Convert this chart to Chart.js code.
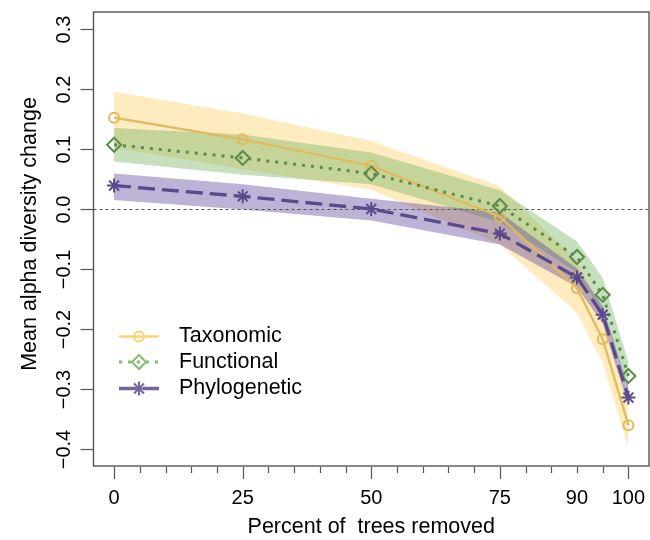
<!DOCTYPE html>
<html><head><meta charset="utf-8">
<script src="https://cdn.jsdelivr.net/npm/chart.js@4/dist/chart.umd.min.js"></script>
<style>html,body{margin:0;padding:0;background:#fff}</style>
</head><body>
<canvas id="c" width="650" height="540"></canvas>
<script>
// ---- data ----
const xValues = [0, 25, 50, 75, 90, 95, 100];

const taxMean  = [0.152, 0.116, 0.072, -0.013, -0.132, -0.217, -0.360];
const taxUpper = [0.195, 0.159, 0.113,  0.038, -0.086, -0.173, -0.319];
const taxLower = [0.102, 0.066, 0.032, -0.059, -0.173, -0.257, -0.398];

const funMean  = [0.107, 0.085, 0.059,  0.005, -0.080, -0.143, -0.278];
const funUpper = [0.135, 0.124, 0.094,  0.031, -0.054, -0.115, -0.255];
const funLower = [0.079, 0.057, 0.041, -0.022, -0.106, -0.172, -0.301];

const phyMean  = [0.039, 0.021,  0.000, -0.041, -0.114, -0.176, -0.314];
const phyUpper = [0.059, 0.041,  0.017, -0.006, -0.099, -0.162, -0.297];
const phyLower = [0.015, -0.001, -0.019, -0.059, -0.130, -0.191, -0.328];

const seriesNames = ['Taxonomic', 'Functional', 'Phylogenetic'];

const xMinorTicks = [0,5,10,15,20,25,30,35,40,45,50,55,60,65,70,75,80,85,90,95,100];
const xMajorTicks = [0, 25, 50, 75, 100];
const xTickLabels = [0, 25, 50, 75, 90, 100];
const yTicks = [-0.4, -0.3, -0.2, -0.1, 0.0, 0.1, 0.2, 0.3];
const yTickLabels = ['\u22120.4', '\u22120.3', '\u22120.2', '\u22120.1', '0.0', '0.1', '0.2', '0.3'];

const xTitle = 'Percent of  trees removed';
const yTitle = 'Mean alpha diversity change';

// ---- styles ----
const FONT = '"Liberation Sans", Arial, Helvetica, sans-serif';
const lineColors   = ['#E2BA5C', '#5C8B4B', '#5A4A8B'];
const legendColors = ['#FBD46E', '#86BD68', '#76629F'];
const fillColors   = ['rgba(252,205,98,0.40)', 'rgba(112,177,92,0.40)', 'rgba(90,65,152,0.40)'];
const dashes = [[], [3, 6], [17, 7]];
const styles = ['circle', 'rectRot', 'star'];
const radii = [5, 7, 7];
const lineWidths = [2.3, 3, 3.3];

function pts(ys) { return xValues.map((x, i) => ({ x: x, y: ys[i] })); }

function band(upper, lower, k, order) {
  return [
    { data: pts(upper), borderWidth: 0, borderColor: 'rgba(0,0,0,0)', pointRadius: 0, fill: false, order: order, tension: 0 },
    { data: pts(lower), borderWidth: 0, borderColor: 'rgba(0,0,0,0)', pointRadius: 0, fill: '-1', backgroundColor: fillColors[k], order: order, tension: 0 }
  ];
}
function meanLine(ys, k, order) {
  return {
    label: seriesNames[k], data: pts(ys), borderColor: lineColors[k], borderWidth: lineWidths[k],
    borderDash: dashes[k], fill: false, tension: 0, order: order,
    pointStyle: styles[k], pointRadius: radii[k], pointBorderColor: lineColors[k],
    pointBackgroundColor: 'rgba(0,0,0,0)', pointBorderWidth: 2
  };
}

function drawMarker(ctx, style, x, y, r) {
  ctx.beginPath();
  if (style === 'circle') {
    ctx.arc(x, y, r, 0, Math.PI * 2);
  } else if (style === 'rectRot') {
    ctx.moveTo(x, y - r); ctx.lineTo(x + r, y); ctx.lineTo(x, y + r); ctx.lineTo(x - r, y); ctx.closePath();
  } else {
    for (let a = 0; a < 4; a++) {
      const ang = a * Math.PI / 4;
      ctx.moveTo(x - r * Math.cos(ang), y - r * Math.sin(ang));
      ctx.lineTo(x + r * Math.cos(ang), y + r * Math.sin(ang));
    }
  }
  ctx.stroke();
}

const rAxes = {
  id: 'rAxes',
  beforeDatasetDraw(chart, args) {
    if (args.index !== 6) return;
    const { ctx, chartArea: a, scales: { y } } = chart;
    const py = Math.round(y.getPixelForValue(0)) + 0.5;
    ctx.save();
    ctx.strokeStyle = '#555'; ctx.lineWidth = 1; ctx.setLineDash([3, 3]);
    ctx.beginPath(); ctx.moveTo(a.left, py); ctx.lineTo(a.right, py); ctx.stroke();
    ctx.restore();
  },
  afterDraw(chart) {
    const { ctx, chartArea: a, scales: { x, y } } = chart;
    ctx.save();
    ctx.setLineDash([]);
    // box
    ctx.strokeStyle = '#555'; ctx.lineWidth = 1.4;
    ctx.strokeRect(a.left, a.top, a.right - a.left, a.bottom - a.top);
    ctx.lineWidth = 1.2;
    ctx.fillStyle = '#000';
    ctx.font = '20px ' + FONT;
    // y ticks
    y.ticks.forEach((t, i) => {
      const py = Math.round(y.getPixelForValue(t.value)) + 0.5;
      ctx.beginPath(); ctx.moveTo(a.left - 13, py); ctx.lineTo(a.left, py); ctx.stroke();
      ctx.save();
      ctx.translate(70, py); ctx.rotate(-Math.PI / 2);
      ctx.textAlign = 'center'; ctx.textBaseline = 'alphabetic';
      ctx.fillText(yTickLabels[i], 0, 0);
      ctx.restore();
    });
    // x ticks
    x.ticks.forEach((t) => {
      const px = Math.round(x.getPixelForValue(t.value)) + 0.5;
      const len = xMajorTicks.includes(t.value) ? 12 : 6;
      ctx.beginPath(); ctx.moveTo(px, a.bottom + 1); ctx.lineTo(px, a.bottom + 1 + len); ctx.stroke();
    });
    ctx.textAlign = 'center'; ctx.textBaseline = 'alphabetic';
    xTickLabels.forEach((v) => {
      ctx.fillText(String(v), x.getPixelForValue(v), 504);
    });
    // titles
    ctx.font = '21.5px ' + FONT;
    ctx.fillText(xTitle, (a.left + a.right) / 2, 533);
    ctx.save();
    ctx.translate(36, 234); ctx.rotate(-Math.PI / 2);
    ctx.fillText(yTitle, 0, 0);
    ctx.restore();
    // legend
    const legY = [336.5, 362, 388.5];
    for (let k = 0; k < 3; k++) {
      const yc = legY[k];
      ctx.strokeStyle = legendColors[k];
      ctx.lineWidth = lineWidths[k];
      ctx.setLineDash(dashes[k]);
      ctx.beginPath(); ctx.moveTo(119, yc); ctx.lineTo(159, yc); ctx.stroke();
      ctx.setLineDash([]);
      ctx.lineWidth = 2;
      drawMarker(ctx, styles[k], 139, yc, radii[k]);
      ctx.fillStyle = '#000';
      ctx.textAlign = 'left'; ctx.textBaseline = 'middle';
      ctx.fillText(seriesNames[k], 179, yc);
    }
    ctx.restore();
  }
};

const datasets = [].concat(
  band(taxUpper, taxLower, 0, 30),
  band(funUpper, funLower, 1, 20),
  band(phyUpper, phyLower, 2, 10),
  [meanLine(taxMean, 0, 3), meanLine(funMean, 1, 2), meanLine(phyMean, 2, 1)]
);

new Chart(document.getElementById('c'), {
  type: 'line',
  data: { datasets: datasets },
  options: {
    responsive: false,
    animation: false,
    events: [],
    layout: { autoPadding: false, padding: { top: 12, right: 1, left: 0, bottom: 0 } },
    plugins: { legend: { display: false }, tooltip: { enabled: false }, filler: { propagate: false } },
    scales: {
      x: {
        type: 'linear', min: -4, max: 104,
        afterBuildTicks: (s) => { s.ticks = xMinorTicks.map(v => ({ value: v })); },
        afterFit: (s) => { s.height = 74; },
        ticks: { display: false }, grid: { display: false }, border: { display: false }
      },
      y: {
        type: 'linear', min: -0.428, max: 0.328,
        afterBuildTicks: (s) => { s.ticks = yTicks.map(v => ({ value: v })); },
        afterFit: (s) => { s.width = 93.5; },
        ticks: { display: false }, grid: { display: false }, border: { display: false }
      }
    }
  },
  plugins: [rAxes]
});
</script>
</body></html>
